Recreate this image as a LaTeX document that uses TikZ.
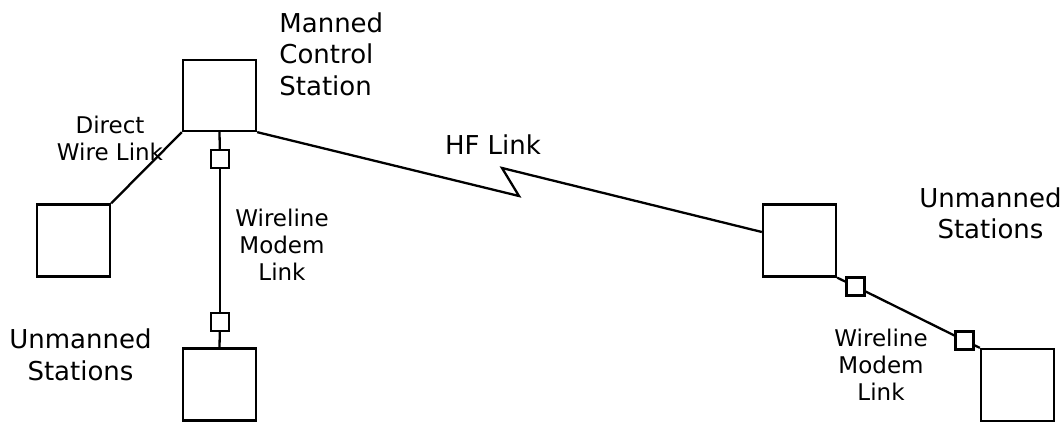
\documentclass[tikz,border=0pt]{standalone}
\usepackage{fontspec}
\setmainfont{DejaVu Sans}
\tikzset{
    station/.style={draw, line width=1.15pt, minimum width=36.5pt, minimum height=36pt, inner sep=0pt},
    modem/.style={draw, line width=1.15pt, minimum size=9pt, inner sep=0pt},
    link/.style={line width=1.15pt},
    biglabel/.style={font=\fontsize{13}{15.75}\selectfont, align=center, inner sep=0pt},
    smalllabel/.style={font=\fontsize{11.5}{13.5}\selectfont, align=center, inner sep=0pt}
}

\begin{document}
\begin{tikzpicture}[x=0.5pt,y=-0.5pt]
		\useasboundingbox (0,0) rectangle (1064,422);

		% Stations
		\node[station, minimum height=35.5pt] (ctl) at (219.5,95.5) {};
		\node[station] (west) at (73.5,240.5) {};
		\node[station] (south) at (219.5,384.5) {};
		\node[station] (east) at (799.5,240.5) {};
		\node[station] (far) at (1017.5,385) {};

		% Modems
		\node[modem] (mdA) at (220,159) {};
		\node[modem] (mdB) at (220,322) {};
		\node[modem] (mdC) at (855.5,286.5) {};
		\node[modem] (mdD) at (964.5,340.5) {};

		% Direct wire
		\draw[link] (ctl.south west) -- (west.north east);

		% Wireline modem links
		\draw[link] (ctl.south) -- (mdA);
		\draw[link] (mdA) -- (mdB);
		\draw[link] (mdB) -- (south.north);
		\draw[link] (east.south east) -- (mdC);
		\draw[link] (mdC) -- (mdD);
		\draw[link] (mdD) -- (far.north west);

		% HF link with its break
		\coordinate (zigA) at (519,196);
		\coordinate (zigB) at (502,168);
		\draw[link] (ctl.south east) -- (zigA) -- (zigB) -- ([yshift=4.25pt]east.west);

		% Labels
		\node[biglabel, align=left, anchor=west] (ctlText) at (279,54) {Manned\\Control\\Station};
		\node[biglabel] (westText) at (80.5,355) {Unmanned\\Stations};
		\node[biglabel] (eastText) at (990.5,213.5) {Unmanned\\Stations};
		\node[biglabel] (hfText) at (493,145) {HF Link};
		\node[smalllabel] (wireText) at (110,138.5) {Direct\\Wire Link};
		\node[smalllabel] (mdmText) at (282,245) {Wireline\\Modem\\Link};
		\node[smalllabel] (mdmTextB) at (881,365) {Wireline\\Modem\\Link};
	\end{tikzpicture}
\end{document}
